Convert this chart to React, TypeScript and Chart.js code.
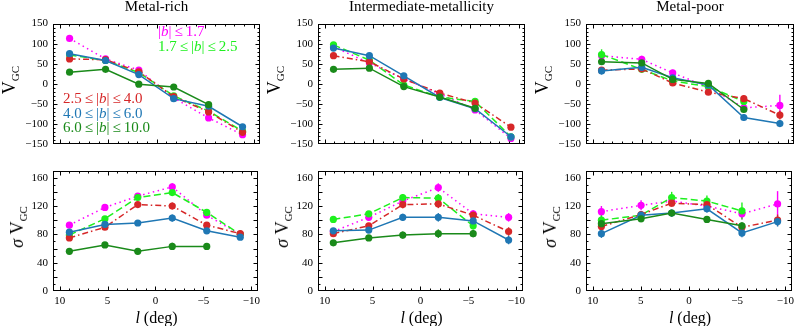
import React, { useEffect, useRef } from "react";
import { Chart, registerables } from "chart.js";
Chart.register(...registerables);

// ---------- data ----------
const xRich = [8.99, 5.28, 1.85, -1.75, -5.35, -8.85];
const xInter = [9.1, 5.4, 1.85, -1.86, -5.5, -9.2];
const xPoor = [9.1, 4.98, 1.8, -1.86, -5.5, -9.2];

const binLabels = ["|b| ≤ 1.7", "1.7 ≤ |b| ≤ 2.5", "2.5 ≤ |b| ≤ 4.0", "4.0 ≤ |b| ≤ 6.0", "6.0 ≤ |b| ≤ 10.0"];
const panelTitles = ["Metal-rich", "Intermediate-metallicity", "Metal-poor"];
const xTickValues = [10, 5, 0, -5, -10];
const vTickValues = [-150, -100, -50, 0, 50, 100, 150];
const sTickValues = [0, 20, 40, 60, 80, 100, 120, 140, 160];

// mean velocity, metal-rich
const vRichMag = [113, 62, 34, -35, -85, -127];
const vRichLime = [72, 58, 28, -30, -68, -118];
const vRichRed = [62, 60, 30, -32, -70, -121];
const vRichBlue = [75, 58, 23, -37, -56, -107];
const vRichGreen = [29, 36, -1, -8, -52];
// mean velocity, intermediate
const vIntMag = [92, 52, 12, -25, -65, -136];
const vIntLime = [97, 59, -3, -33, -44, -132];
const vIntRed = [70, 55, 12, -23, -48, -108];
const vIntBlue = [89, 70, 20, -34, -62, -132];
const vIntGreen = [36, 39, -7, -33, -61];
// mean velocity, metal-poor
const vPoorMag = [70, 61, 27, -8, -60, -54];
const vPoorLime = [73, 36, 7, -7, -44];
const vPoorRed = [34, 37, 2, -21, -37, -78];
const vPoorBlue = [32, 41, 15, -3, -84, -99];
const vPoorGreen = [55, 52, 11, 1, -64];

// dispersion, metal-rich
const sRichMag = [93, 118, 134, 147, 107, 80];
const sRichLime = [79, 102, 132, 139, 111, 80];
const sRichRed = [75, 90, 122, 120, 93, 81];
const sRichBlue = [83, 94, 96, 103, 85, 76];
const sRichGreen = [56, 65, 56, 63, 63];
// dispersion, intermediate
const sIntMag = [84, 104, 127, 146, 109, 104];
const sIntLime = [101, 109, 132, 131, 92];
const sIntRed = [81, 92, 122, 123, 107, 84];
const sIntBlue = [85, 86, 104, 104, 99, 72];
const sIntGreen = [68, 75, 79, 81, 81];
// dispersion, metal-poor
const sPoorMag = [112, 121, 127, 120, 109, 123];
const sPoorLime = [100, 107, 132, 127, 113];
const sPoorRed = [91, 108, 124, 122, 90, 100];
const sPoorBlue = [81, 107, 110, 116, 82, 98];
const sPoorGreen = [95, 102, 110, 101, 92];

// error bars
const eSmall = [4, 4, 4, 4, 5, 6];
const eRichS = [3, 3, 4, 5, 4, 4];
const eIntS = [4, 4, 5, 6, 5, 6];
const ePoorVMag = [10, 9, 8, 8, 10, 27];
const ePoorVLime = [13, 8, 7, 8, 10];
const ePoorVRed = [6, 5, 5, 6, 8, 11];
const ePoorVBlue = [9, 6, 6, 6, 8, 8];
const ePoorVGreen = [8, 5, 5, 5, 7];
const ePoorSMag = [8, 7, 6, 7, 8, 18];
const ePoorSLime = [8, 6, 8, 8, 12];
const ePoorSRed = [6, 5, 5, 5, 6, 8];
const ePoorSBlue = [6, 5, 5, 5, 6, 7];
const ePoorSGreen = [6, 5, 4, 5, 5];

// ---------- styles ----------
const STY = [
  { color: "#ff00ff", dash: [1.5, 3.5] },
  { color: "#1ef01e", dash: [7, 3.5] },
  { color: "#d62728", dash: [6, 3, 1.5, 3] },
  { color: "#1f77b4", dash: [] as number[] },
  { color: "#1a8a1a", dash: [] as number[] },
];

const COLS = [53, 318, 586];
const COL_W = [207, 207, 208];
const ROWS = [16, 163];
const ROW_H = 128;
const PADL = 42, PADR = 4, PADT = 4, PADB = 26;
const SERIF = "'Liberation Serif', 'DejaVu Serif', serif";
const minus = (v: number) => String(v).replace("-", "\u2212");

const framePlugin = {
  id: "frameTicks",
  beforeDatasetsDraw(chart: any) {
    const { ctx, scales } = chart;
    ctx.save();
    chart.data.datasets.forEach((ds: any, i: number) => {
      const meta = chart.getDatasetMeta(i);
      ctx.strokeStyle = ds.borderColor;
      ctx.lineWidth = 1.4;
      ctx.setLineDash([]);
      meta.data.forEach((pt: any, j: number) => {
        const v = ds.data[j].y;
        const e = ds.errors[j];
        const y1 = scales.y.getPixelForValue(v - e);
        const y2 = scales.y.getPixelForValue(v + e);
        ctx.beginPath();
        ctx.moveTo(pt.x, y1);
        ctx.lineTo(pt.x, y2);
        ctx.stroke();
      });
    });
    ctx.restore();
  },
  afterDraw(chart: any) {
    const { ctx, chartArea: a, scales } = chart;
    const o = chart.options.plugins.frameTicks;
    ctx.save();
    ctx.strokeStyle = "#000";
    ctx.lineWidth = 1;
    ctx.setLineDash([]);
    const L = Math.round(a.left) + 0.5, R = Math.round(a.right) - 0.5;
    const T = Math.round(a.top) + 0.5, B = Math.round(a.bottom) - 0.5;
    ctx.strokeRect(L, T, R - L, B - T);
    ctx.beginPath();
    for (let v = -10; v <= 10; v += 1) {
      const px = Math.round(scales.x.getPixelForValue(v)) + 0.5;
      if (px < L || px > R) continue;
      const len = v % 5 === 0 ? 4 : 2;
      ctx.moveTo(px, B); ctx.lineTo(px, B - len);
      ctx.moveTo(px, T); ctx.lineTo(px, T + len);
    }
    for (let v = o.yMin; v <= o.yMax; v += o.minor) {
      const py = Math.round(scales.y.getPixelForValue(v)) + 0.5;
      if (py < T - 0.1 || py > B + 0.1) continue;
      const len = v % o.major === 0 ? 4 : 2;
      ctx.moveTo(L, py); ctx.lineTo(L + len, py);
      ctx.moveTo(R, py); ctx.lineTo(R - len, py);
    }
    ctx.stroke();
    ctx.restore();
  },
};

type Panel = {
  col: number; row: number; xs: number[];
  values: number[][]; errors: number[][];
};

const panels: Panel[] = [
  { col: 0, row: 0, xs: xRich, values: [vRichMag, vRichLime, vRichRed, vRichBlue, vRichGreen], errors: [eSmall, eSmall, eSmall, eSmall, eSmall] },
  { col: 1, row: 0, xs: xInter, values: [vIntMag, vIntLime, vIntRed, vIntBlue, vIntGreen], errors: [eSmall, eSmall, eSmall, eSmall, eSmall] },
  { col: 2, row: 0, xs: xPoor, values: [vPoorMag, vPoorLime, vPoorRed, vPoorBlue, vPoorGreen], errors: [ePoorVMag, ePoorVLime, ePoorVRed, ePoorVBlue, ePoorVGreen] },
  { col: 0, row: 1, xs: xRich, values: [sRichMag, sRichLime, sRichRed, sRichBlue, sRichGreen], errors: [eRichS, eRichS, eRichS, eRichS, eRichS] },
  { col: 1, row: 1, xs: xInter, values: [sIntMag, sIntLime, sIntRed, sIntBlue, sIntGreen], errors: [eIntS, eIntS, eIntS, eIntS, eIntS] },
  { col: 2, row: 1, xs: xPoor, values: [sPoorMag, sPoorLime, sPoorRed, sPoorBlue, sPoorGreen], errors: [ePoorSMag, ePoorSLime, ePoorSRed, ePoorSBlue, ePoorSGreen] },
];

function PanelChart({ p }: { p: Panel }) {
  const ref = useRef<HTMLCanvasElement>(null);
  const w = COL_W[p.col] + PADL + PADR;
  const h = ROW_H + PADT + PADB;
  useEffect(() => {
    const top = p.row === 0;
    const yMin = top ? -150 : 0;
    const yMax = top ? 150 : 170;
    const yTicks = top ? vTickValues : sTickValues;
    const chart = new Chart(ref.current as HTMLCanvasElement, {
      type: "line",
      data: {
        datasets: p.values.map((vals, k) => ({
          label: binLabels[k],
          data: vals.map((v, i) => ({ x: p.xs[i], y: v })),
          errors: p.errors[k],
          borderColor: STY[k].color,
          backgroundColor: STY[k].color,
          pointBackgroundColor: STY[k].color,
          pointBorderColor: STY[k].color,
          borderDash: STY[k].dash,
          borderWidth: 1.5,
          pointRadius: 3.6,
          pointBorderWidth: 0,
          tension: 0,
          order: 5 - k,
        })) as any,
      },
      options: {
        responsive: false,
        animation: false,
        events: [],
        layout: { padding: { left: 0, right: PADR, top: PADT, bottom: 0 }, autoPadding: false },
        plugins: {
          legend: { display: false },
          tooltip: { enabled: false },
          frameTicks: { yMin, yMax, minor: 10, major: top ? 50 : 20 },
        } as any,
        scales: {
          x: {
            type: "linear",
            min: -10.65,
            max: 10.7,
            reverse: true,
            afterFit: (s: any) => { s.height = PADB; },
            afterBuildTicks: (s: any) => { s.ticks = xTickValues.map((v) => ({ value: v })); },
            grid: { display: false, drawTicks: false },
            border: { display: false },
            ticks: {
              display: !top,
              padding: 4,
              maxRotation: 0,
              color: "#000",
              font: { family: SERIF, size: 11 },
              callback: (v: any) => minus(v),
            },
          },
          y: {
            type: "linear",
            min: yMin,
            max: yMax,
            afterFit: (s: any) => { s.width = PADL; },
            afterBuildTicks: (s: any) => { s.ticks = yTicks.map((v) => ({ value: v })); },
            grid: { display: false, drawTicks: false },
            border: { display: false },
            ticks: {
              padding: 5,
              color: "#000",
              font: { family: SERIF, size: 11 },
              callback: (v: any) => minus(v),
            },
          },
        },
      },
      plugins: [framePlugin],
    } as any);
    return () => chart.destroy();
  }, []);
  return (
    <canvas
      ref={ref}
      width={w}
      height={h}
      style={{ position: "absolute", left: COLS[p.col] - PADL, top: ROWS[p.row] - PADT, width: w, height: h }}
    />
  );
}

const txt: React.CSSProperties = { position: "absolute", fontFamily: SERIF, color: "#000", whiteSpace: "nowrap", lineHeight: 1 };
const le = <span style={{ margin: "0 3px" }}>≤</span>;
const absB = <>|<i>b</i>|</>;

export default function App() {
  const legend = [
    { t: <>{absB}{le}1.7</>, c: STY[0].color, x: 158, y: 31 },
    { t: <>1.7{le}{absB}{le}2.5</>, c: STY[1].color, x: 158, y: 46 },
    { t: <>2.5{le}{absB}{le}4.0</>, c: STY[2].color, x: 63, y: 98 },
    { t: <>4.0{le}{absB}{le}6.0</>, c: STY[3].color, x: 63, y: 113 },
    { t: <>6.0{le}{absB}{le}10.0</>, c: STY[4].color, x: 63, y: 127 },
  ];
  return (
    <div style={{ position: "absolute", left: 0, top: 0, width: 797, height: 326, background: "#fff", overflow: "hidden" }}>
      {panels.map((p, i) => <PanelChart key={i} p={p} />)}
      {panelTitles.map((t, i) => (
        <div key={"t" + i} style={{ ...txt, fontSize: 15, left: COLS[i] + COL_W[i] / 2, top: 6, transform: "translate(-50%,-50%)" }}>{t}</div>
      ))}
      {COLS.map((c, i) => (
        <div key={"vy" + i} style={{ ...txt, fontSize: 18, left: c - 44, top: ROWS[0] + ROW_H / 2, transform: "translate(-50%,-50%) rotate(-90deg)" }}>
          V<span style={{ fontSize: 11, position: "relative", top: 4 }}>GC</span>
        </div>
      ))}
      {COLS.map((c, i) => (
        <div key={"sy" + i} style={{ ...txt, fontSize: 18, left: c - 36, top: ROWS[1] + ROW_H / 2, transform: "translate(-50%,-50%) rotate(-90deg)" }}>
          <i>σ</i> V<span style={{ fontSize: 11, position: "relative", top: 4 }}>GC</span>
        </div>
      ))}
      {COLS.map((c, i) => (
        <div key={"xl" + i} style={{ ...txt, fontSize: 16, left: c + COL_W[i] / 2, top: 318, transform: "translate(-50%,-50%)" }}>
          <i>l</i> (deg)
        </div>
      ))}
      {legend.map((l, i) => (
        <div key={"lg" + i} style={{ ...txt, fontSize: 15, color: l.c, left: l.x, top: l.y, transform: "translateY(-50%)" }}>{l.t}</div>
      ))}
    </div>
  );
}
